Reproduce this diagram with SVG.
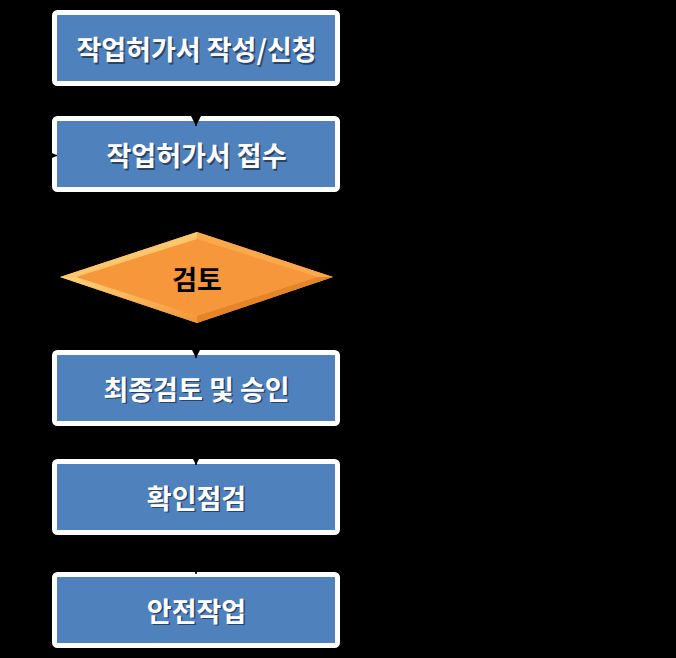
<svg xmlns="http://www.w3.org/2000/svg" width="676" height="658" viewBox="0 0 676 658">
<defs>
<style>
.box{fill:#4F81BD;stroke:#FFFFFF;stroke-width:5;}
.lbl{font-family:"Noto Sans CJK KR","Noto Sans",sans-serif;font-weight:bold;font-size:27px;text-anchor:middle;dominant-baseline:central;}
.w{fill:#FFFFFF;}
.sh{fill:#1c2a3d;opacity:0.7;}
.k{fill:#000000;}
.con{fill:none;stroke:#000000;stroke-width:1.5;}
</style>
<marker id="ah" viewBox="0 0 10 10" refX="10" refY="5" markerWidth="12" markerHeight="12" markerUnits="userSpaceOnUse" orient="auto">
<path d="M0,0 L10,5 L0,10 z" fill="#000000"/>
</marker>
<linearGradient id="tl" x1="0" y1="0" x2="1" y2="1"><stop offset="0" stop-color="#FFE28C"/><stop offset="1" stop-color="#FBAE4E"/></linearGradient>
<linearGradient id="bl" x1="0" y1="0" x2="1" y2="1"><stop offset="0" stop-color="#FFD27A"/><stop offset="1" stop-color="#F2963A"/></linearGradient>
</defs>
<rect x="0" y="0" width="676" height="658" fill="#000000"/>

<g id="node1">
<rect class="box" x="54.5" y="12.5" width="283" height="71" rx="3"/>
<text class="lbl sh" x="198" y="50">작업허가서 작성/신청</text>
<text class="lbl w" x="196.5" y="48.5">작업허가서 작성/신청</text>
</g>

<g id="node2">
<rect class="box" x="54.5" y="118.5" width="283" height="71" rx="3"/>
<text class="lbl sh" x="198" y="156">작업허가서 접수</text>
<text class="lbl w" x="196.5" y="154.5">작업허가서 접수</text>
</g>

<g id="node3">
<polygon points="60,277 197,232 333,277 197,323" fill="#F7973B"/>
<polygon points="60,277 197,232 197,239 76,277" fill="url(#tl)"/>
<polygon points="60,277 76,277 197,316 197,323" fill="url(#bl)"/>
<polygon points="197,232 333,277 318,277 197,239" fill="#FBA84A"/>
<polygon points="333,277 197,323 197,316 318,277" fill="#E58428"/>
<text class="lbl k" x="197" y="278" font-size="25">검토</text>
</g>

<g id="node4">
<rect class="box" x="54.5" y="352.5" width="283" height="71" rx="3"/>
<text class="lbl sh" x="198" y="389.5">최종검토 및 승인</text>
<text class="lbl w" x="196.5" y="388">최종검토 및 승인</text>
</g>

<g id="node5">
<rect class="box" x="54.5" y="461.5" width="283" height="71" rx="3"/>
<text class="lbl sh" x="198" y="498.5">확인점검</text>
<text class="lbl w" x="196.5" y="497">확인점검</text>
</g>

<g id="node6">
<rect class="box" x="54.5" y="574.5" width="283" height="71" rx="3"/>
<text class="lbl sh" x="198" y="611.5">안전작업</text>
<text class="lbl w" x="196.5" y="610">안전작업</text>
</g>

<g id="connectors">
<path class="con" d="M196,87 L196,126" marker-end="url(#ah)"/>
<path class="con" d="M196,193 L196,232" marker-end="url(#ah)"/>
<path class="con" d="M196,324 L196,358" marker-end="url(#ah)"/>
<path class="con" d="M196,427 L196,465" marker-end="url(#ah)"/>
<path class="con" d="M196,536 L196,574" marker-end="url(#ah)"/>
<path class="con" d="M59,277 L25,277 L25,155.5 L57,155.5" marker-end="url(#ah)"/>
</g>
</svg>
